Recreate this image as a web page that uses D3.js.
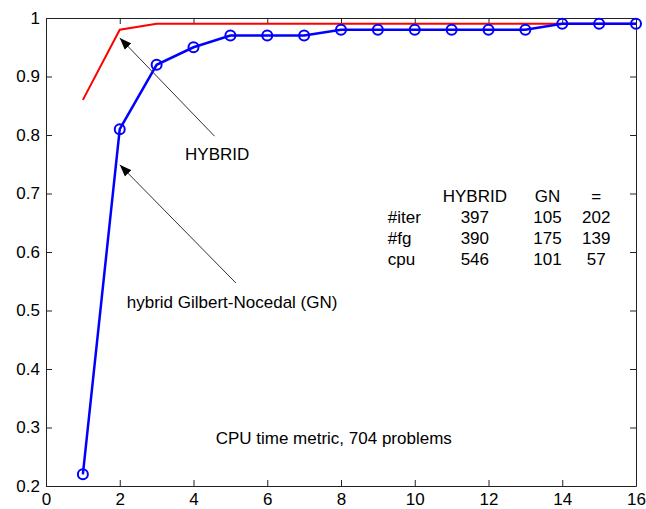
<!DOCTYPE html>
<html>
<head>
<meta charset="utf-8">
<script src="https://cdn.jsdelivr.net/npm/d3@7"></script>
<style>
  body { margin: 0; background: #fff; }
  svg { display: block; }
  text { font-family: "Liberation Sans", Arial, sans-serif; font-size: 17px; fill: #000; }
</style>
</head>
<body>
<div id="chart"></div>
<script>
// performance profile data
var steps  = [1, 2, 3, 4, 5, 6, 7, 8, 9, 10, 11, 12, 13, 14, 15, 16];
var hybrid = [0.86, 0.98, 0.99, 0.99, 0.99, 0.99, 0.99, 0.99, 0.99, 0.99, 0.99, 0.99, 0.99, 0.99, 0.99, 0.99];
var gn     = [0.22, 0.81, 0.92, 0.95, 0.97, 0.97, 0.97, 0.98, 0.98, 0.98, 0.98, 0.98, 0.98, 0.99, 0.99, 0.99];

var xTicks = [0, 2, 4, 6, 8, 10, 12, 14, 16];
var yTicks = [0.2, 0.3, 0.4, 0.5, 0.6, 0.7, 0.8, 0.9, 1];

var tableHeader = ["HYBRID", "GN", "="];
var tableRows   = ["#iter", "#fg", "cpu"];
var tableValues = [[397, 105, 202], [390, 175, 139], [546, 101, 57]];

var width = 646, height = 509;
var margin = {top: 18, right: 10, bottom: 23, left: 46};
var w = width - margin.left - margin.right,
    h = height - margin.top - margin.bottom;

var svg = d3.select("#chart").append("svg")
    .attr("width", width)
    .attr("height", height);

var defs = svg.append("defs");
defs.append("marker")
    .attr("id", "head")
    .attr("markerUnits", "userSpaceOnUse")
    .attr("viewBox", "0 -5 13 10")
    .attr("markerWidth", 13)
    .attr("markerHeight", 10)
    .attr("refX", 12)
    .attr("refY", 0)
    .attr("orient", "auto")
  .append("path")
    .attr("d", "M0,-4.5L12,0L0,4.5Z")
    .attr("fill", "#000");

var g = svg.append("g")
    .attr("transform", "translate(" + margin.left + "," + margin.top + ")");

var x = d3.scaleLinear().domain([0, 16]).range([0, w]);
var y = d3.scaleLinear().domain([0.2, 1]).range([h, 0]);

var fmt = function(d) { return String(+d.toFixed(1)); };

function styleAxis(sel) {
  sel.select(".domain").attr("stroke", "#222");
  sel.selectAll(".tick line").attr("stroke", "#222");
  sel.attr("font-size", null).attr("font-family", null);
  sel.selectAll("text").attr("fill", "#000");
}

g.append("g")
    .attr("transform", "translate(0," + h + ")")
    .call(d3.axisBottom(x).tickValues(xTicks).tickSize(-6).tickSizeOuter(0).tickPadding(7))
    .call(styleAxis);

g.append("g")
    .call(d3.axisTop(x).tickValues(xTicks).tickSize(-6).tickSizeOuter(0).tickFormat(""))
    .call(styleAxis);

g.append("g")
    .call(d3.axisLeft(y).tickValues(yTicks).tickSize(-6).tickSizeOuter(0).tickPadding(6).tickFormat(fmt))
    .call(styleAxis);

g.append("g")
    .attr("transform", "translate(" + w + ",0)")
    .call(d3.axisRight(y).tickValues(yTicks).tickSize(-6).tickSizeOuter(0).tickFormat(""))
    .call(styleAxis);

var line = d3.line()
    .x(function(d) { return x(d[0]); })
    .y(function(d) { return y(d[1]); });

g.append("path")
    .datum(d3.zip(steps, hybrid))
    .attr("fill", "none")
    .attr("stroke", "#ff0000")
    .attr("stroke-width", 2)
    .attr("d", line);

var gnPts = d3.zip(steps, gn);

g.append("path")
    .datum(gnPts)
    .attr("fill", "none")
    .attr("stroke", "#0000ff")
    .attr("stroke-width", 2.5)
    .attr("d", line);

g.selectAll("circle")
    .data(gnPts)
    .enter().append("circle")
    .attr("cx", function(d) { return x(d[0]); })
    .attr("cy", function(d) { return y(d[1]); })
    .attr("r", 5)
    .attr("fill", "none")
    .attr("stroke", "#0000ff")
    .attr("stroke-width", 2);

// annotations (data coordinates)
var arrows = [
  {from: [4.57, 0.798], to: [2.0, 0.966]},
  {from: [5.15, 0.547], to: [2.0, 0.749]}
];

g.selectAll(".arrow")
    .data(arrows)
    .enter().append("line")
    .attr("class", "arrow")
    .attr("x1", function(d) { return x(d.from[0]); })
    .attr("y1", function(d) { return y(d.from[1]); })
    .attr("x2", function(d) { return x(d.to[0]); })
    .attr("y2", function(d) { return y(d.to[1]); })
    .attr("stroke", "#333")
    .attr("stroke-width", 1)
    .attr("marker-end", "url(#head)");

g.append("text")
    .attr("x", x(3.77))
    .attr("y", y(0.757))
    .text("HYBRID");

g.append("text")
    .attr("x", x(2.19))
    .attr("y", y(0.504))
    .text("hybrid Gilbert-Nocedal (GN)");

g.append("text")
    .attr("x", x(4.6))
    .attr("y", y(0.272))
    .text("CPU time metric, 704 problems");

// small results table
var colX = [11.63, 13.6, 14.92];
var rowY = y(0.685), rowGap = 21;

g.selectAll(".thead")
    .data(tableHeader)
    .enter().append("text")
    .attr("class", "thead")
    .attr("text-anchor", "middle")
    .attr("x", function(d, i) { return x(colX[i]); })
    .attr("y", rowY)
    .text(function(d) { return d; });

var rows = g.selectAll(".trow")
    .data(tableRows)
    .enter().append("g")
    .attr("class", "trow")
    .attr("transform", function(d, i) { return "translate(0," + (rowY + (i + 1) * rowGap) + ")"; });

rows.append("text")
    .attr("x", x(9.27))
    .text(function(d) { return d; });

rows.selectAll(".cell")
    .data(function(d, i) { return tableValues[i]; })
    .enter().append("text")
    .attr("class", "cell")
    .attr("text-anchor", "middle")
    .attr("x", function(d, i) { return x(colX[i]); })
    .text(function(d) { return d; });
</script>
</body>
</html>
